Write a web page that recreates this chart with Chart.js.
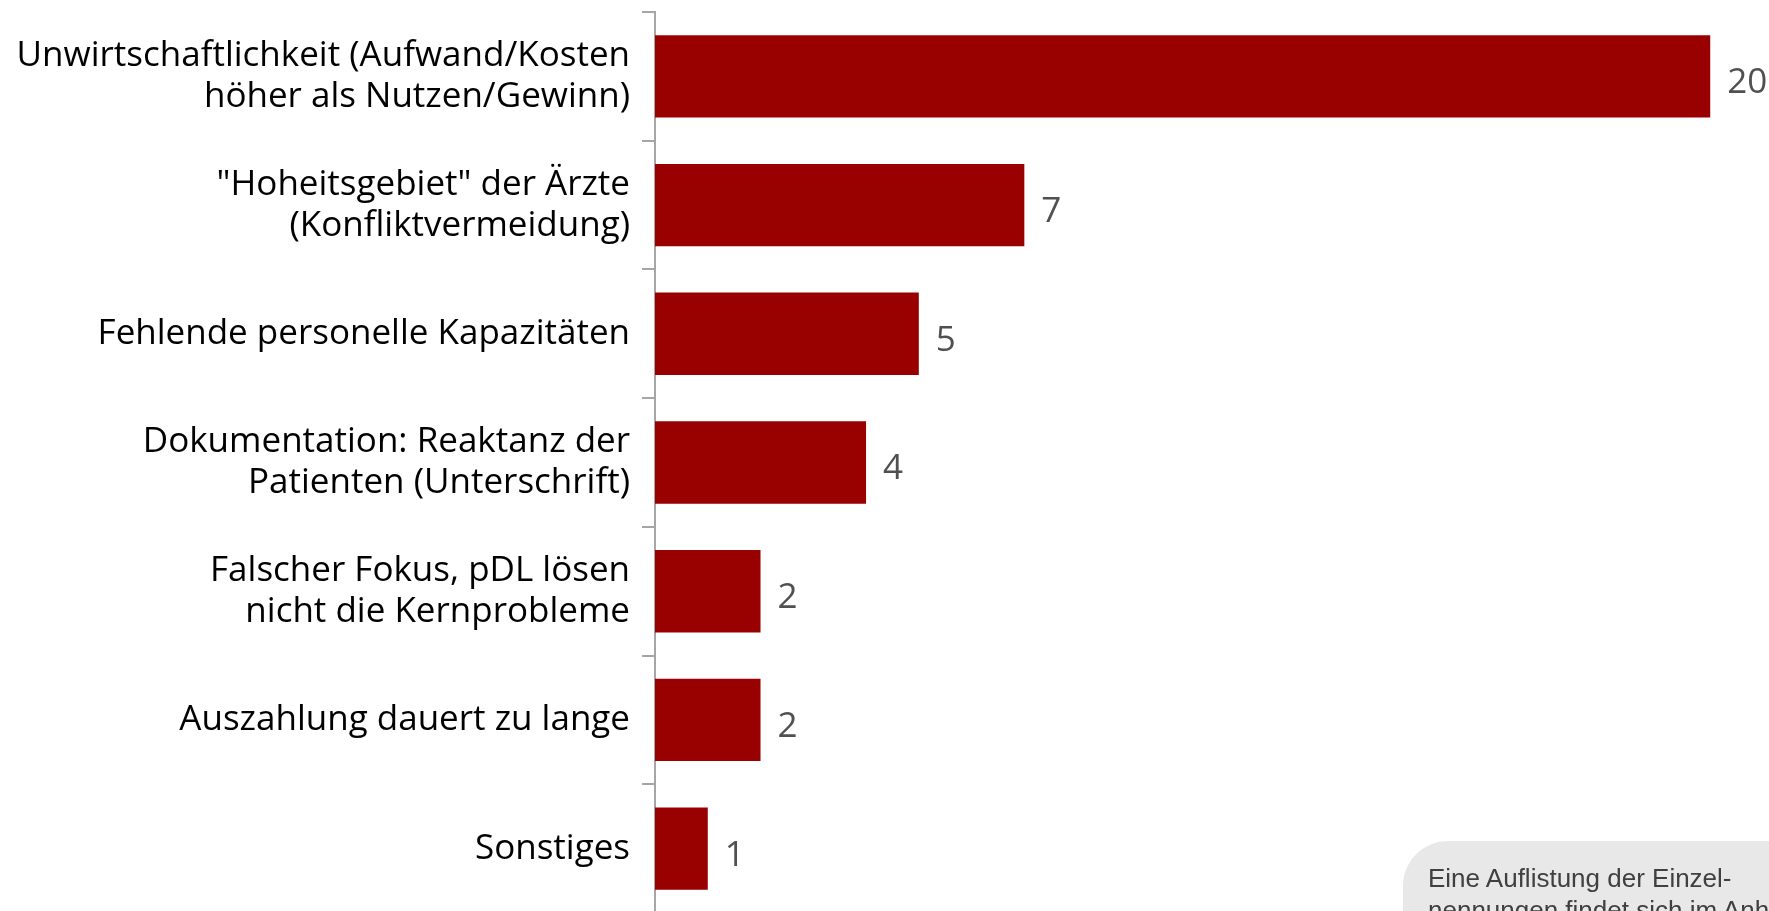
<!DOCTYPE html>
<html>
<head>
<meta charset="utf-8">
<script src="https://cdn.jsdelivr.net/npm/chart.js@4"></script>
<style>
    html, body { margin: 0; padding: 0; overflow: hidden; background: #fff; }
    #wrap { position: relative; width: 1769px; height: 911px; overflow: hidden; }
    #myChart { position: absolute; left: 0; top: 0; }
    .note {
        position: absolute; left: 1403px; top: 841px; width: 420px; height: 120px;
        background: #e8e8e8; border-radius: 45px;
        box-sizing: border-box; padding: 21px 0 0 25px;
        font-family: "Liberation Sans", Arial, sans-serif; font-size: 26px; line-height: 32px;
        color: #404040; white-space: nowrap;
    }
</style>
</head>
<body>
<div id="wrap">
    <canvas id="myChart" width="1769" height="913"></canvas>
    <div class="note">Eine Auflistung der Einzel-<br>nennungen findet sich im Anhang</div>
</div>
<script>
// Data
const categories = [
    ['Unwirtschaftlichkeit (Aufwand/Kosten', 'höher als Nutzen/Gewinn)'],
    ['"Hoheitsgebiet" der Ärzte', '(Konfliktvermeidung)'],
    'Fehlende personelle Kapazitäten',
    ['Dokumentation: Reaktanz der', 'Patienten (Unterschrift)'],
    ['Falscher Fokus, pDL lösen', 'nicht die Kernprobleme'],
    'Auszahlung dauert zu lange',
    'Sonstiges'
];
const counts = [20, 7, 5, 4, 2, 2, 1];

document.addEventListener('DOMContentLoaded', function () {
    const ctx = document.getElementById('myChart').getContext('2d');

    // value labels next to each bar
    const valueLabels = {
        id: 'valueLabels',
        afterDatasetsDraw(chart) {
            const c = chart.ctx;
            const meta = chart.getDatasetMeta(0);
            c.save();
            c.font = '35px "Open Sans"';
            c.fillStyle = '#505050';
            c.textAlign = 'left';
            c.textBaseline = 'middle';
            meta.data.forEach((bar, i) => {
                c.fillText(String(counts[i]), bar.x + 17, bar.y + 7);
            });
            c.restore();
        }
    };

    const myChart = new Chart(ctx, {
        type: 'bar',
        data: {
            labels: categories,
            datasets: [{
                data: counts,
                backgroundColor: '#990000',
                borderWidth: 0,
                categoryPercentage: 0.8,
                barPercentage: 0.8
            }]
        },
        options: {
            indexAxis: 'y',
            responsive: false,
            animation: false,
            layout: { padding: { top: 12, right: 6, bottom: 0, left: 0 } },
            scales: {
                x: { display: false, min: 0, max: 21 },
                y: {
                    grid: {
                        drawOnChartArea: false,
                        drawTicks: true,
                        tickLength: 13,
                        color: '#a6a6a6',
                        lineWidth: 2,
                        offset: true
                    },
                    border: { display: true, color: '#a6a6a6', width: 2 },
                    ticks: {
                        color: '#000',
                        padding: 12,
                        font: { family: 'Open Sans', size: 35, lineHeight: 1.17 }
                    },
                    afterFit: function (scale) {
                        scale.width = 655;
                        scale.paddingTop = 0;
                        scale.paddingBottom = 0;
                    }
                }
            },
            plugins: {
                legend: { display: false },
                tooltip: { enabled: false }
            }
        },
        plugins: [valueLabels]
    });
});
</script>
</body>
</html>
